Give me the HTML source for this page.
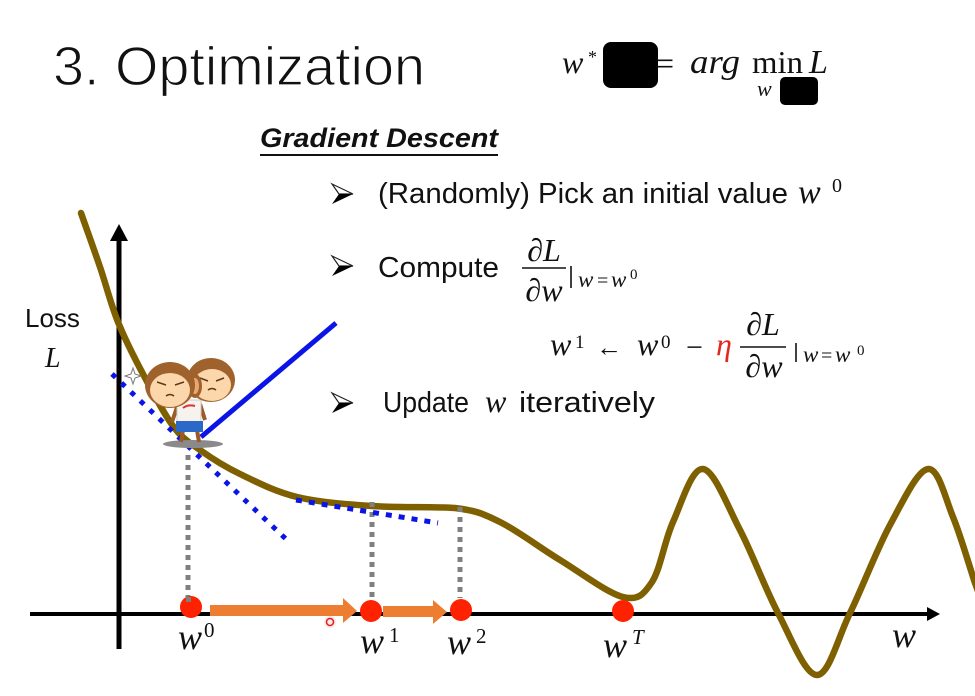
<!DOCTYPE html>
<html>
<head>
<meta charset="utf-8">
<style>
  html, body { margin: 0; padding: 0; background: #fff; }
  svg { display: block; }
  .s { font-family: "Liberation Sans", "DejaVu Sans", sans-serif; }
  .m { font-family: "Liberation Serif", "DejaVu Serif", serif; font-style: italic; }
  .r { font-family: "Liberation Serif", "DejaVu Serif", serif; }
</style>
</head>
<body>
<svg width="975" height="696" viewBox="0 0 975 696" xmlns="http://www.w3.org/2000/svg">
  <rect width="975" height="696" fill="#fff"/>

  <!-- Title -->
  <text x="53" y="85" class="s" font-size="55" fill="#111" stroke="#fff" stroke-width="1.2" textLength="372" lengthAdjust="spacingAndGlyphs">3. Optimization</text>

  <!-- top equation -->
  <text x="562" y="73" class="m" font-size="32" fill="#111">w</text>
  <text x="588" y="63" class="r" font-size="18" fill="#111">*</text>
  <rect x="603" y="42" width="55" height="46" rx="8" fill="#000"/>
  <text x="656" y="74" class="r" font-size="32" fill="#111">=</text>
  <text x="690" y="73" class="m" font-size="34" fill="#111" textLength="50" lengthAdjust="spacingAndGlyphs">arg</text>
  <text x="752" y="73" class="r" font-size="32" fill="#111" textLength="51" lengthAdjust="spacingAndGlyphs">min</text>
  <text x="809" y="73" class="m" font-size="34" fill="#111">L</text>
  <text x="757" y="96" class="m" font-size="22" fill="#111">w</text>
  <rect x="780" y="77" width="38" height="28" rx="5" fill="#000"/>

  <!-- Gradient Descent -->
  <text x="260" y="147" class="s" font-size="27" font-weight="bold" font-style="italic" fill="#111" textLength="238" lengthAdjust="spacingAndGlyphs">Gradient Descent</text>
  <line x1="260" y1="155" x2="498" y2="155" stroke="#111" stroke-width="2"/>

  <!-- bullets -->
  <g>
    <polygon points="332,184 353,194 339,194" fill="#fff" stroke="#222" stroke-width="1.2"/>
    <polygon points="339,194 353,194 332,204" fill="#000"/>
    <polygon points="332,256 353,266 339,266" fill="#fff" stroke="#222" stroke-width="1.2"/>
    <polygon points="339,266 353,266 332,276" fill="#000"/>
    <polygon points="332,393 353,403 339,403" fill="#fff" stroke="#222" stroke-width="1.2"/>
    <polygon points="339,403 353,403 332,413" fill="#000"/>
  </g>

  <text x="378" y="203" class="s" font-size="29" fill="#111" textLength="410" lengthAdjust="spacingAndGlyphs">(Randomly) Pick an initial value</text>
  <text x="798" y="203" class="m" font-size="34" fill="#111">w</text>
  <text x="832" y="192" class="r" font-size="20" fill="#111">0</text>

  <text x="378" y="277" class="s" font-size="29" fill="#111" textLength="121" lengthAdjust="spacingAndGlyphs">Compute</text>
  <text x="544" y="261" class="m" font-size="32" fill="#111" text-anchor="middle">∂L</text>
  <line x1="522" y1="268" x2="566" y2="268" stroke="#111" stroke-width="1.6"/>
  <text x="544" y="301" class="m" font-size="32" fill="#111" text-anchor="middle">∂w</text>
  <line x1="571" y1="266" x2="571" y2="288" stroke="#111" stroke-width="1.6"/>
  <text x="578" y="287" class="m" font-size="23" fill="#111">w</text>
  <text x="597" y="287" class="r" font-size="20" fill="#111">=</text>
  <text x="611" y="287" class="m" font-size="23" fill="#111">w</text>
  <text x="630" y="279" class="r" font-size="15" fill="#111">0</text>

  <!-- update rule -->
  <text x="550" y="355" class="m" font-size="32" fill="#111">w</text>
  <text x="575" y="348" class="r" font-size="19" fill="#111">1</text>
  <text x="596" y="356" class="r" font-size="26" fill="#111">←</text>
  <text x="637" y="355" class="m" font-size="32" fill="#111">w</text>
  <text x="661" y="348" class="r" font-size="19" fill="#111">0</text>
  <text x="686" y="357" class="r" font-size="30" fill="#111">−</text>
  <text x="716" y="355" class="m" font-size="32" fill="#e0281e">η</text>
  <text x="763" y="335" class="m" font-size="32" fill="#111" text-anchor="middle">∂L</text>
  <line x1="740" y1="347" x2="786" y2="347" stroke="#111" stroke-width="1.6"/>
  <text x="764" y="377" class="m" font-size="32" fill="#111" text-anchor="middle">∂w</text>
  <line x1="796" y1="343" x2="796" y2="362" stroke="#111" stroke-width="1.6"/>
  <text x="803" y="362" class="m" font-size="23" fill="#111">w</text>
  <text x="821" y="362" class="r" font-size="20" fill="#111">=</text>
  <text x="835" y="362" class="m" font-size="23" fill="#111">w</text>
  <text x="857" y="355" class="r" font-size="15" fill="#111">0</text>

  <text x="383" y="412" class="s" font-size="29" fill="#111" textLength="86" lengthAdjust="spacingAndGlyphs">Update</text>
  <text x="485" y="412" class="m" font-size="32" fill="#111">w</text>
  <text x="519" y="412" class="s" font-size="29" fill="#111" textLength="136" lengthAdjust="spacingAndGlyphs">iteratively</text>

  <!-- Loss label -->
  <text x="25" y="327" class="s" font-size="26" fill="#111">Loss</text>
  <text x="45" y="367" class="m" font-size="28" fill="#111">L</text>

  <!-- axes -->
  <line x1="30" y1="614" x2="930" y2="614" stroke="#000" stroke-width="4"/>
  <polygon points="927,607 940,614 927,621" fill="#000"/>
  <line x1="119" y1="238" x2="119" y2="649" stroke="#000" stroke-width="5"/>
  <polygon points="110,241 128,241 119,224" fill="#000"/>

  <!-- loss curve -->
  <path fill="none" stroke="#7f6000" stroke-width="6.5" stroke-linejoin="round" stroke-linecap="round"
    d="M81,213
       C87.3,231 93.8,248.8 100,267
       C106.2,285.2 110.8,304.2 118,322
       C125.2,339.8 133.8,356.7 143,374
       C152.2,391.3 163.5,413.3 173,426
       C182.5,438.7 188.8,442 200,450
       C211.2,458 223.8,466.2 240,474
       C256.2,481.8 275,491.7 297,497
       C319,502.3 345.7,504.2 372,506
       C398.3,507.8 433.7,506.5 455,508
       C476.3,510.7 482.5,513.3 500,522
       C517.5,530.7 539.5,547.5 560,560
       C580.5,572.5 607.7,593.3 623,597
       C638.3,600.7 643.7,594.5 652,582
       C660.3,569.5 664.5,540.8 673,522
       C681.5,503.2 691.8,467.7 703,469
       C714.2,470.3 727.5,506 740,530
       C752.5,554 765.2,588.8 778,613
       C790.8,637.2 805,675 817,675
       C829,675 837.8,638 850,613
       C862.2,588 877,549 890,525
       C903,501 917.5,470.3 928,469
       C938.5,467.7 945.2,498 953,517
       C960.8,536 967.7,561 975,583
       L985,610"/>

  <!-- gray dotted verticals -->
  <g stroke="#808080" stroke-width="5" stroke-dasharray="5 5" fill="none">
    <line x1="188" y1="455" x2="188" y2="598"/>
    <line x1="372" y1="502" x2="372" y2="598"/>
    <line x1="460" y1="507" x2="460" y2="598"/>
  </g>

  <!-- blue tangents -->
  <line x1="112" y1="374" x2="287" y2="540" stroke="#0a14e6" stroke-width="5" stroke-dasharray="5 8"/>
  <line x1="296" y1="500" x2="438" y2="523" stroke="#0a14e6" stroke-width="5" stroke-dasharray="6 7"/>
  <line x1="201" y1="437" x2="336" y2="323" stroke="#0a14e6" stroke-width="5"/>

  <!-- sparkle -->
  <path d="M133,368 L135,374 L141,376 L135,378 L133,384 L131,378 L125,376 L131,374 Z" fill="#fff" stroke="#777" stroke-width="1"/>

  <!-- monkey character -->
  <g>
    <ellipse cx="193" cy="444" rx="30" ry="4" fill="#8a8a8a"/>
    <line x1="183" y1="430" x2="181" y2="442" stroke="#9b5a2a" stroke-width="4"/>
    <line x1="197" y1="430" x2="199" y2="442" stroke="#9b5a2a" stroke-width="4"/>
    <line x1="178" y1="404" x2="172" y2="422" stroke="#9b5a2a" stroke-width="4"/>
    <line x1="200" y1="404" x2="205" y2="420" stroke="#9b5a2a" stroke-width="4"/>
    <rect x="177" y="400" width="24" height="23" fill="#f6f3ee" stroke="#ccc" stroke-width="1"/>
    <path d="M183,408 q5,-4 12,-2" stroke="#d33" stroke-width="2" fill="none"/>
    <rect x="176" y="421" width="27" height="11" fill="#2c68c8"/>
    <!-- head 2 (behind) -->
    <ellipse cx="211" cy="380" rx="24" ry="22" fill="#a0622d"/>
    <ellipse cx="212" cy="385" rx="19" ry="16" fill="#fbd7ab"/>
    <path d="M200,378 l8,3 M224,378 l-8,3" stroke="#5a3a1a" stroke-width="1.5"/>
    <path d="M208,390 q4,-3 8,0" stroke="#5a3a1a" stroke-width="1.5" fill="none"/>
    <!-- head 1 (front) -->
    <ellipse cx="195" cy="386" rx="7" ry="12" fill="#a0622d"/>
    <ellipse cx="195" cy="386" rx="4" ry="8" fill="#e8a870"/>
    <ellipse cx="170" cy="385" rx="25" ry="23" fill="#a0622d"/>
    <ellipse cx="170" cy="390" rx="20" ry="17" fill="#fbd7ab"/>
    <path d="M157,382 l9,3 M184,382 l-9,3" stroke="#5a3a1a" stroke-width="1.5"/>
    <path d="M166,396 q4,-3 8,0" stroke="#5a3a1a" stroke-width="1.5" fill="none"/>
  </g>

  <!-- orange arrows -->
  <rect x="210" y="605" width="135" height="11" fill="#ed7d31"/>
  <polygon points="343,598 357,611 343,623" fill="#ed7d31"/>
  <rect x="383" y="606" width="52" height="11" fill="#ed7d31"/>
  <polygon points="433,600 447,612 433,624" fill="#ed7d31"/>

  <!-- red dots -->
  <g fill="#ff2200">
    <circle cx="191" cy="607" r="11"/>
    <circle cx="371" cy="611" r="11"/>
    <circle cx="461" cy="610" r="11"/>
    <circle cx="623" cy="611" r="11"/>
  </g>
  <rect x="186" y="597" width="5" height="5" fill="#808080"/>
  <circle cx="330" cy="622" r="6" fill="#ffdddd" opacity="0.7"/>
  <circle cx="330" cy="622" r="3.5" fill="none" stroke="#e02020" stroke-width="1.5"/>

  <!-- axis labels -->
  <text x="178" y="649" class="m" font-size="36" fill="#111">w</text>
  <text x="204" y="637" class="r" font-size="21" fill="#111">0</text>
  <text x="360" y="653" class="m" font-size="36" fill="#111">w</text>
  <text x="389" y="642" class="r" font-size="21" fill="#111">1</text>
  <text x="447" y="654" class="m" font-size="36" fill="#111">w</text>
  <text x="476" y="643" class="r" font-size="21" fill="#111">2</text>
  <text x="603" y="657" class="m" font-size="36" fill="#111">w</text>
  <text x="632" y="644" class="m" font-size="21" fill="#111">T</text>
  <text x="892" y="647" class="m" font-size="36" fill="#111">w</text>
</svg>
</body>
</html>
